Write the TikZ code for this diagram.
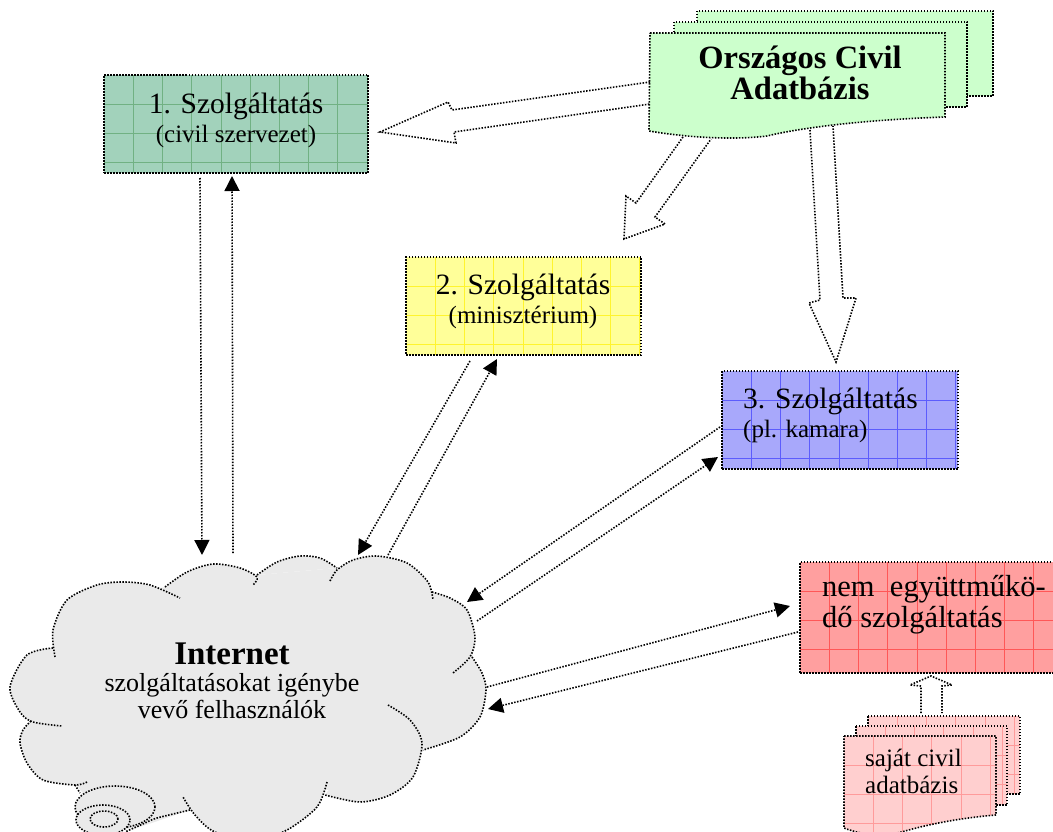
\documentclass[tikz,border=0pt]{standalone}
\usepackage{fontspec}
\setmainfont{Liberation Serif}
\usetikzlibrary{arrows.meta,shapes.geometric}

\definecolor{szolggreen}{HTML}{A2D2BB}
\definecolor{szolgyellow}{HTML}{FFFF99}
\definecolor{szolgblue}{HTML}{A8A8FB}
\definecolor{szolgred}{HTML}{FF9F9F}
\definecolor{dbgreen}{HTML}{CCFFCC}
\definecolor{dbred}{HTML}{FFCFCF}
\definecolor{cloudgray}{HTML}{EAEAEA}

\newcommand{\bigsz}{\fontsize{29.5}{29}\selectfont}
\newcommand{\smallsz}{\fontsize{25}{29}\selectfont}

% the cloud bumps, once filled and once stroked
\newcommand{\cloudbumps}[1]{
    \path[#1] plot[smooth] coordinates {(53,648) (27,655) (10,687) (20,712) (33,722) (62,726)};
    \path[#1] plot[smooth] coordinates {(55,657) (53,630) (67,600) (97,585) (123,582) (150,585) (180,598)};
    \path[#1] plot[smooth] coordinates {(165,587) (187,572) (213,564) (240,568) (257,577) (253,585)};
    \path[#1] plot[smooth] coordinates {(257,575) (277,562) (300,556) (320,558) (337,568)};
    \path[#1] plot[smooth] coordinates {(330,581) (337,570) (353,560) (377,556) (407,563) (428,582) (433,600)};
    \path[#1] plot[smooth] coordinates {(432,592) (450,598) (467,610) (475,637) (470,657) (453,673)};
    \path[#1] plot[smooth] coordinates {(472,657) (482,673) (486,690) (480,717) (460,737) (423,750)};
    \path[#1] plot[smooth] coordinates {(388,705) (410,720) (422,743) (413,777) (390,795) (360,802) (325,795)};
    \path[#1] plot[smooth] coordinates {(327,782) (317,807) (287,830) (255,840) (215,832) (195,815) (183,797)};
    \path[#1] plot[smooth] coordinates {(190,810) (157,818) (145,823) (125,832)};
    \path[#1] plot[smooth] coordinates {(87,782) (75,785) (43,780) (27,763) (20,743) (23,730) (32,720)};
}

\tikzset{
    dotline/.style={line width=1.6pt, dash pattern=on 1.5pt off 1.5pt, black},
    thinline/.style={line width=1.6pt, dash pattern=on 1.5pt off 1.5pt, black},
    netarrow/.style={thinline, -{Triangle[length=15pt,width=15pt]}},
    hollowarrow/.style={thinline, line join=miter},
    gridded/.style={path picture={
        \foreach \i in {1,...,10}
            \draw[solid, line width=.6pt, #1] ([xshift=\i*29.2pt]path picture bounding box.north west) -- ([xshift=\i*29.2pt]path picture bounding box.south west);
        \foreach \j in {1,2,3}
            \draw[solid, line width=.6pt, #1] ([yshift=-\j*29pt]path picture bounding box.north west) -- ([yshift=-\j*29pt]path picture bounding box.north east);
    }},
    szolgbox/.style 2 args={dotline, draw, rectangle, fill=#1, gridded=#2, inner sep=0pt},
    dbsheet/.style={dotline, fill=dbgreen},
    ownsheet/.style={dotline, fill=dbred, gridded=red!25!dbred},
    boxtext/.style={inner sep=0pt, align=center, font=\bigsz},
}

\begin{document}
\begin{tikzpicture}[x=1pt,y=-1pt]
    \useasboundingbox (0,0) rectangle (1053,832);

    % the cloud
    \fill[cloudgray] (56,650) -- (70,610) -- (165,587) -- (257,575) -- (337,568) -- (430,590) -- (472,650) -- (478,700) -- (423,748) -- (413,775) -- (327,790) -- (190,810) -- (125,830) -- (80,790) -- (32,722) -- cycle;
    \cloudbumps{fill=cloudgray}
    \cloudbumps{thinline, draw}
    \draw[thinline] (75,785) -- (80,793);
    \node[ellipse, thinline, draw, minimum width=80pt, minimum height=42pt, inner sep=0pt, fill=cloudgray] (swirlA) at (115,807) {};
    \node[ellipse, thinline, draw, minimum width=54pt, minimum height=30pt, inner sep=0pt, fill=cloudgray] (swirlB) at (103,820) {};
    \node[ellipse, thinline, draw, minimum width=28pt, minimum height=16pt, inner sep=0pt] (swirlC) at (104,819) {};
    \node[boxtext, font=\fontsize{26}{27}\selectfont] (net) at (232,680.5) {{\fontsize{33}{30}\selectfont\bfseries Internet}\\
        szolgáltatásokat igénybe\\
        vevő felhasználók};

    % the service boxes
    \node[szolgbox={szolggreen}{green!40!black!30!szolggreen}, minimum width=264pt, minimum height=98pt] (szolgA) at (236,124) {};
    \node[szolgbox={szolgyellow}{yellow!70!szolgyellow}, minimum width=235pt, minimum height=98pt] (szolgB) at (523.5,306) {};
    \node[szolgbox={szolgblue}{blue!45!szolgblue}, minimum width=236pt, minimum height=98pt] (szolgC) at (840,420) {};
    \node[szolgbox={szolgred}{red!45!szolgred}, minimum width=262pt, minimum height=111pt] (szolgD) at (931,617.5) {};

    \node[boxtext] (szolgAtext) at (236,120) {1. Szolgáltatás\\{\smallsz (civil szervezet)}};
    \node[boxtext] (szolgBtext) at (523,301) {2. Szolgáltatás\\{\smallsz (minisztérium)}};
    \node[boxtext, align=left, anchor=west] (szolgCtext) at (743,415.5) {3. Szolgáltatás\\{\smallsz (pl. kamara)}};
    \node[boxtext, align=left, anchor=west, font=\fontsize{30.5}{31}\selectfont] (szolgDtext) at (822,604.5) {nem\ \ együttműkö-\\dő szolgáltatás};

    % the national database
    \draw[dbsheet] (697,11) rectangle (993,96);
    \draw[dbsheet] (674,22) rectangle (967,107);
    \draw[dbsheet] (650,33) -- (945,33) -- (945,117) .. controls (860,120) and (800,128) .. (767,136) .. controls (735,140) and (690,138) .. (649,131) -- cycle;
    \node[boxtext, font=\fontsize{32.5}{31}\selectfont\bfseries] (db) at (800,73) {Országos Civil\\Adatbázis};

    % the own database
    \draw[ownsheet] (868,716) rectangle (1020,794);
    \draw[ownsheet] (856,726) rectangle (1007,805);
    \draw[ownsheet] (844,736) -- (996,736) -- (996,815) .. controls (960,818) and (930,824) .. (905,831) .. controls (885,837) and (865,836) .. (844,828) -- cycle;
    \node[boxtext, align=left, anchor=west, font=\fontsize{25}{27}\selectfont] (own) at (865,771) {saját civil\\adatbázis};

    % hollow arrows
    \coordinate (dbA1) at (650,82);
    \coordinate (dbA2) at (650,104);
    \coordinate (dbB1) at (683,137);
    \coordinate (dbB2) at (711,139);
    \coordinate (dbC1) at (810,130);
    \coordinate (dbC2) at (833,126);
    \coordinate (ownA1) at (921,713);
    \coordinate (ownA2) at (942,713);
    \draw[hollowarrow] (dbA1) -- (452,110) -- (448,102) -- (380,132) -- (456,143) -- (454,132) -- (dbA2);
    \draw[hollowarrow] (dbB1) -- (636,203) -- (626,196) -- (624,239) -- (665,224) -- (655,217) -- (dbB2);
    \draw[hollowarrow] (dbC1) -- (820,300) -- (809,303) -- (836,362) -- (856,298) -- (843,298) -- (dbC2);
    \draw[hollowarrow] (ownA1) -- (921,686) -- (910,685) -- (931,676) -- (952,685) -- (942,686) -- (ownA2);

    % thin arrows between the cloud and the boxes
    \coordinate (netA1) at (202,555);
    \coordinate (netA2) at (233,553);
    \coordinate (netB1) at (358,555);
    \coordinate (netB2) at (388,555);
    \coordinate (netC1) at (467,602);
    \coordinate (netC2) at (477,621);
    \coordinate (netD1) at (487,687);
    \coordinate (netD2) at (488,709);
    \coordinate (szolgA1) at (200,178);
    \coordinate (szolgA2) at (232,176);
    \coordinate (szolgB1) at (470,361);
    \coordinate (szolgB2) at (497,359);
    \coordinate (szolgC1) at (720,427);
    \coordinate (szolgC2) at (718,457);
    \coordinate (szolgD1) at (790,606);
    \coordinate (szolgD2) at (798,632);
    \draw[netarrow] (szolgA1) -- (netA1);
    \draw[netarrow] (netA2) -- (szolgA2);
    \draw[netarrow] (szolgB1) -- (netB1);
    \draw[netarrow] (netB2) -- (szolgB2);
    \draw[netarrow] (szolgC1) -- (netC1);
    \draw[netarrow] (netC2) -- (szolgC2);
    \draw[netarrow] (netD1) -- (szolgD1);
    \draw[netarrow] (szolgD2) -- (netD2);
\end{tikzpicture}
\end{document}
